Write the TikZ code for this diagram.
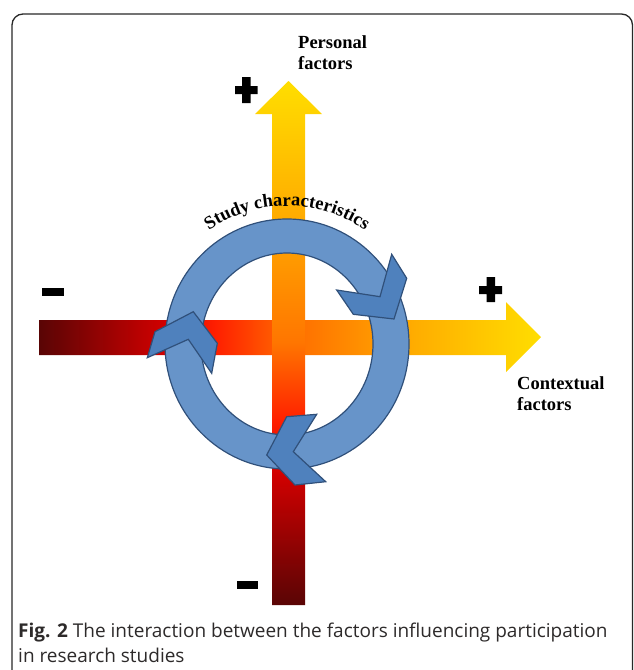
\documentclass[tikz,border=0pt]{standalone}
\usepackage{fontspec}
\setmainfont{Liberation Serif}
\newfontfamily\capfont{Open Sans}
\usetikzlibrary{decorations.text}
\definecolor{ringfill}{RGB}{103,148,201}
\definecolor{chevfill}{RGB}{79,129,189}
\definecolor{ringline}{RGB}{48,80,122}
\definecolor{framecol}{RGB}{40,40,40}
\definecolor{captext}{RGB}{45,42,42}
\pgfdeclarehorizontalshading{hgrad}{100bp}{
  rgb(0bp)=(0.35,0.02,0.02);
  rgb(25bp)=(0.35,0.02,0.02);
  rgb(37.5bp)=(0.82,0,0);
  rgb(42.5bp)=(1,0.12,0);
  rgb(50bp)=(1,0.42,0);
  rgb(62.5bp)=(1,0.68,0);
  rgb(75bp)=(1,0.87,0);
  rgb(100bp)=(1,0.87,0)}
\pgfdeclareverticalshading{vgrad}{100bp}{
  rgb(0bp)=(0.35,0.02,0.02);
  rgb(25bp)=(0.35,0.02,0.02);
  rgb(37.5bp)=(0.82,0,0);
  rgb(42.5bp)=(1,0.12,0);
  rgb(50bp)=(1,0.46,0);
  rgb(62.5bp)=(1,0.68,0);
  rgb(75bp)=(1,0.87,0);
  rgb(100bp)=(1,0.87,0)}
\tikzset{
  chev/.style={fill=chevfill,draw=ringline,line width=1.2pt,line join=miter},
  ringstyle/.style={fill=ringfill,draw=ringline,line width=1.2pt,even odd rule},
  labeltext/.style={font=\fontsize{18.5}{21}\selectfont\bfseries,align=left,inner sep=0pt},
  signbar/.style={fill=black}
}
\begin{document}
\begin{tikzpicture}[x=1pt,y=1pt]
\useasboundingbox (0,0) rectangle (633,-670);
% frame
\draw[framecol,line width=1.3pt,rounded corners=11pt] (12,-690) -- (12,-14) -- (632.5,-14) -- (632.5,-690);
% horizontal arrow
\shade[shading=hgrad] (39,-320) -- (506,-320) -- (506,-302) -- (541,-337) -- (506,-372) -- (506,-355) -- (39,-355) -- cycle;
% vertical arrow
\shade[shading=vgrad] (272,-605) -- (272,-114) -- (255,-114) -- (288.5,-81) -- (322,-114) -- (305,-114) -- (305,-605) -- cycle;
% ring
\path[ringstyle] (287,-344) ellipse [x radius=122, y radius=125] (287,-344) ellipse [x radius=86, y radius=91];
% chevrons
\path[chev] (336.7,-290) -- (380,-296.7) -- (391.7,-254.3) -- (406.7,-278.3) -- (394,-319) -- (353.3,-314.3) -- cycle;
\path[chev] (193.3,-311.7) -- (217.3,-343.3) -- (211.7,-373.3) -- (188.3,-339.3) -- (147.3,-357.7) -- (155,-331.7) -- cycle;
\path[chev] (286.7,-416.7) -- (316.7,-414.3) -- (293.3,-451.7) -- (325.7,-481.7) -- (295,-485) -- (266.7,-455) -- cycle;
% curved label
\path[decorate,decoration={text along path,text align=center,
  text={|\fontsize{18.5}{20}\selectfont\bfseries|Study characteristics}}]
  (287,-344) ++(130:138) arc [start angle=130, end angle=50, x radius=138, y radius=138];
% signs
\fill[signbar] (42,-288) rectangle (64,-295.5);
\fill[signbar] (237,-581) rectangle (258,-588.5);
\fill[signbar] (242,-77) rectangle (250.5,-103) (235,-86) rectangle (257.5,-94);
\fill[signbar] (486.5,-277) rectangle (495,-302) (479,-286) rectangle (502,-294);
% labels
\node[labeltext,anchor=base west] (pers) at (298,-69) {Personal\\factors};
\node[labeltext,anchor=base west] (ctx) at (517,-410) {Contextual\\factors};
% caption
\node[anchor=base west,inner sep=0pt,align=left,text=captext,font=\capfont\fontsize{19}{25}\selectfont] (cap) at (18,-662)
  {\textbf{Fig. 2} The interaction between the factors influencing participation\\in research studies};
\end{tikzpicture}
\end{document}
